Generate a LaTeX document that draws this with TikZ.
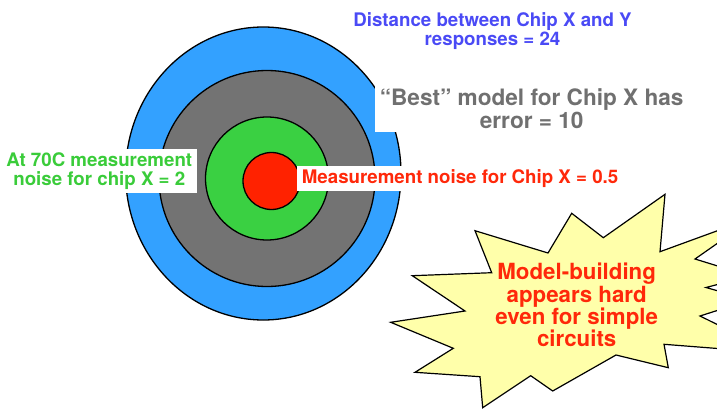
\documentclass[tikz,border=0pt]{standalone}
\usepackage{fontspec}
\setmainfont{TeX Gyre Heros}
\definecolor{ringblue}{RGB}{51,161,255}
\definecolor{ringgray}{RGB}{115,115,115}
\definecolor{ringgreen}{RGB}{58,208,66}
\definecolor{ringred}{RGB}{255,34,0}
\definecolor{txtblue}{RGB}{74,74,245}
\definecolor{txtgray}{RGB}{112,112,112}
\definecolor{txtgreen}{RGB}{58,204,58}
\definecolor{txtred}{RGB}{255,40,10}
\definecolor{starfill}{RGB}{255,255,170}
\begin{document}
\begin{tikzpicture}[
   x=1pt, y=-1pt,
   ring/.style={draw=black, line width=1.3pt},
   lab/.style={align=center, inner sep=0pt,
      font=\bfseries\fontsize{18.7}{19}\selectfont},
   boxlab/.style={lab, fill=white, inner xsep=5pt, inner ysep=3.4pt},
   burst/.style={draw=black, line width=1.2pt, fill=starfill, line join=miter}
]
\useasboundingbox (0,0) rectangle (717,409);
\clip (0,0) rectangle (717,409);

% target rings
\draw[ring, fill=ringblue] (263.3,173.5) ellipse [x radius=137.7, y radius=146.5];
\draw[ring, fill=ringgray] (267,178.5) circle [radius=108];
\draw[ring, fill=ringgreen] (267,178.5) circle [radius=61.5];
\draw[ring, fill=ringred] (271.5,181) circle [radius=28.5];

% labels
\node[lab, text=txtblue] (dist) at (492.5,31)
   {Distance between Chip X and Y\\responses = 24};
\node[boxlab, text=txtgray, font=\bfseries\fontsize{22.6}{23.3}\selectfont,
   inner ysep=2.6pt] (best) at (531.7,108.8) {“Best” model for Chip X has\\error = 10};
\node[boxlab, text=txtgreen] (hot) at (99.3,171)
   {At 70C measurement\\noise for chip X = 2};
\node[boxlab, text=txtred, anchor=west] (noise) at (296.7,178.6)
   {Measurement noise for Chip X = 0.5};

% starburst
\draw[burst] (475,230.7) -- (548,253) -- (571.7,213.3) -- (603.3,237.7)
   -- (665,194.3) -- (660,251.7) -- (755,217) -- (695,259) -- (750,276)
   -- (706,287.5) -- (750,300) -- (700,316) -- (775,353) -- (664,344.3)
   -- (668.3,367.7) -- (616,355) -- (552.7,391) -- (530.7,375.7)
   -- (482.7,407.7) -- (480,376.7) -- (415,372.3) -- (453.3,348.3)
   -- (390.7,322.3) -- (465,311) -- (412.3,275.7) -- (491.7,272.7) -- cycle;
\node[lab, text=txtred, font=\bfseries\fontsize{22.3}{22.2}\selectfont]
   (hard) at (576.7,305) {Model-building\\appears hard\\even for simple\\circuits};
\end{tikzpicture}
\end{document}
